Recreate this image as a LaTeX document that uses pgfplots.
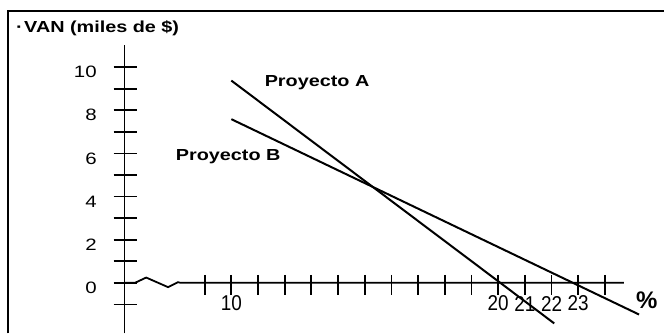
\documentclass[border=0pt]{standalone}
\usepackage{fontspec}
\setmainfont{Liberation Sans}
\newfontfamily\lblfont[FakeStretch=1.24]{Liberation Sans}
\newfontfamily\xfont[FakeStretch=0.88]{Liberation Sans}
\usepackage{pgfplots}
\pgfplotsset{compat=1.18}
\begin{document}
\begin{tikzpicture}
\begin{axis}[
  width=665bp, height=334bp, scale only axis,
  xmin=1.332, xmax=26.21, ymin=-2.347, ymax=13.116,
  hide axis, clip=false,
]
\path (rel axis cs:0,0) rectangle (rel axis cs:1,1);
% frame
\draw[line width=2.2bp] (axis cs:1.631,-2.347) -- (axis cs:1.631,12.607) -- (axis cs:26.21,12.607);
% projects
\addplot[black, line width=2bp] coordinates {(10,9.38) (22.1,-1.88)};
\addplot[black, line width=2bp] coordinates {(10,7.59) (25.28,-1.47)};
% x axis with break
\addplot[black, line width=1.8bp] coordinates {(6.0,0) (6.39,0) (6.81,0.245) (7.63,-0.2) (8.0,0.03) (8.1,0) (24.71,0)};
% y axis
\draw[line width=1.8bp] (axis cs:6,-2.347) -- (axis cs:6,11.03);
\pgfplotsinvokeforeach{-1,...,10}{\draw[line width=1.8bp] ([xshift=-11bp]axis cs:6,#1) -- ([xshift=12bp]axis cs:6,#1);}
\pgfplotsinvokeforeach{9,...,24}{\draw[line width=1.8bp] ([yshift=8bp]axis cs:#1,0) -- ([yshift=-12bp]axis cs:#1,0);}
% y labels
\pgfplotsinvokeforeach{0,2,4,6,8,10}{\node[anchor=east, inner sep=0pt, yshift=-5bp, font=\lblfont\fontsize{16.5bp}{18bp}\selectfont] at (axis cs:4.961,#1) {#1};}
% x labels
\pgfplotsinvokeforeach{10,20,21,22,23}{\node[anchor=center, inner sep=0pt, font=\xfont\fontsize{21.5bp}{23bp}\selectfont] at (axis cs:#1,-0.96) {#1};}
% texts
\node[anchor=west, inner sep=0pt, font=\lblfont\bfseries\fontsize{16bp}{18bp}\selectfont] at (axis cs:1.93,11.82) {·\kern1.5bp VAN (miles de \$)};
\node[anchor=west, inner sep=0pt, font=\lblfont\bfseries\fontsize{16bp}{18bp}\selectfont] at (axis cs:11.246,9.273) {Proyecto A};
\node[anchor=west, inner sep=0pt, font=\lblfont\bfseries\fontsize{16bp}{18bp}\selectfont] at (axis cs:7.916,5.847) {Proyecto B};
\node[anchor=center, inner sep=0pt, font=\bfseries\fontsize{24bp}{26bp}\selectfont] at (axis cs:25.57,-0.796) {\%};
\end{axis}
\end{tikzpicture}
\end{document}
